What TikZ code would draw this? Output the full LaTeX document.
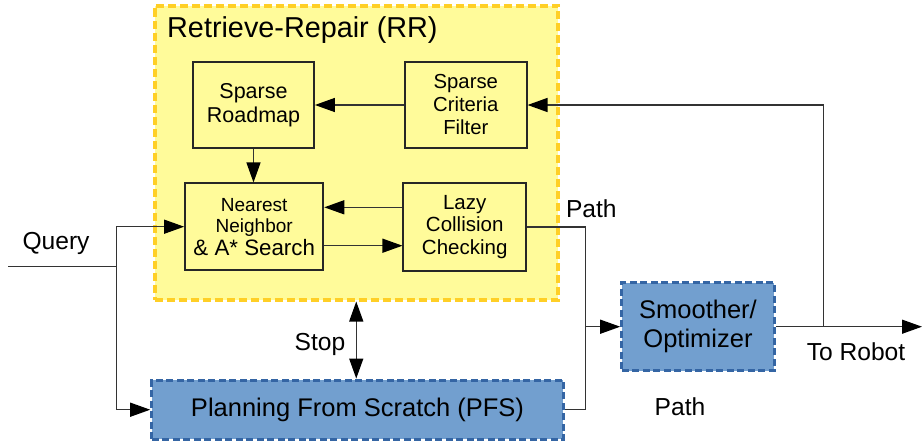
\documentclass[tikz,border=0pt]{standalone}
\usepackage{fontspec}
\setmainfont{Liberation Sans}
\usetikzlibrary{arrows.meta}
\definecolor{rrfill}{HTML}{FFFB9A}
\definecolor{rrline}{HTML}{FFCF26}
\definecolor{bfill}{HTML}{729FCF}
\definecolor{bline}{HTML}{3465A4}
\newcommand{\fsz}[2]{\fontsize{#1}{#2}\selectfont}
\begin{document}
\begin{tikzpicture}[x=1pt,y=-1pt,
  container/.style={draw=rrline, fill=rrfill, line width=4pt, dash pattern=on 8pt off 4pt, inner sep=0},
  inbox/.style={draw=black!85, line width=1.8pt, align=center, inner sep=0, text=black},
  bluebox/.style={draw=bline, fill=bfill, line width=3pt, dash pattern=on 7pt off 3.5pt, align=center, inner sep=0, text=black},
  conn/.style={draw=black!80, line width=1.3pt},
  tip/.style={Triangle[length=20pt,width=14pt,fill=black,color=black]},
  arr/.style={conn, -{Triangle[length=20pt,width=14pt,fill=black,color=black]}},
  darr/.style={conn, {Triangle[length=20pt,width=14pt,fill=black,color=black]}-{Triangle[length=20pt,width=14pt,fill=black,color=black]}},
  lbl/.style={anchor=base, inner sep=0, font=\fsz{24.6}{28}, text=black},
]
\useasboundingbox (0,0) rectangle (923,442);

% container
\node[container, minimum width=403.5, minimum height=294] (rr) at (356.25,152.5) {};
\node[anchor=base west, inner sep=0, font=\fsz{28.8}{32}, text=black] (title) at (167,37.3) {Retrieve-Repair (RR)};

% inner boxes
\node[inbox, minimum width=121, minimum height=86, font=\fsz{21.5}{24}] (sr) at (253.5,105) {Sparse\\Roadmap};
\node[inbox, minimum width=121.7, minimum height=86, font=\fsz{20.3}{23}] (scf) at (465.8,105) {Sparse\\Criteria\\Filter};
\node[inbox, minimum width=138.3, minimum height=86.7, font=\fsz{19}{21}] (nn) at (254.2,226.7) {Nearest\\Neighbor\\[2pt]{\fsz{22.3}{24}\& A* Search}};
\node[inbox, minimum width=122.7, minimum height=87.4, font=\fsz{20.5}{22.5}] (lcc) at (464.7,227) {Lazy\\Collision\\Checking};

% blue boxes
\node[bluebox, minimum width=152.6, minimum height=88, font=\fsz{25.5}{29}] (sm) at (698,326.7) {Smoother/\\Optimizer};
\node[bluebox, minimum width=411.6, minimum height=59.3, font=\fsz{25.5}{29}] (pfs) at (357.5,409.7) {Planning From Scratch (PFS)};

% labels
\node[lbl] (query) at (56,249) {Query};
\node[lbl] (stop) at (320,350) {Stop};
\node[lbl] (path1) at (591.3,217.7) {Path};
\node[lbl] (path2) at (680,415.7) {Path};
\node[lbl] (robot) at (856,360.3) {To Robot};

% coordinates
\coordinate (q0) at (8,266.7);
\coordinate (qj) at (116.7,266.7);
\coordinate (pj) at (585.7,326.7);
\coordinate (fb) at (823.3,326.7);
\coordinate (out) at (922,326.7);
\coordinate (l1) at ([yshift=19.7pt]lcc.west);
\coordinate (n1) at ([yshift=-19pt]nn.east);

% connectors inside RR
\draw[arr] (scf.west) -- (sr.east);
\draw[arr] (sr.south) -- (sr.south |- nn.north);
\draw[arr] (l1) -- (l1 -| nn.east);
\draw[arr] (n1) -- (n1 -| lcc.west);

% query
\draw[conn] (q0) -- (qj);
\draw[arr] (qj) |- (nn.west);
\draw[arr] (qj) |- (pfs.west);

% stop
\draw[darr] (rr.south) -- (rr.south |- pfs.north);

% paths
\draw[conn] (lcc.east) -| (pj) |- (pfs.east);
\draw[arr] (pj) -- (sm.west);
\draw[arr] (sm.east) -- (out);
\draw[arr] (fb) |- (scf.east);
\end{tikzpicture}
\end{document}
